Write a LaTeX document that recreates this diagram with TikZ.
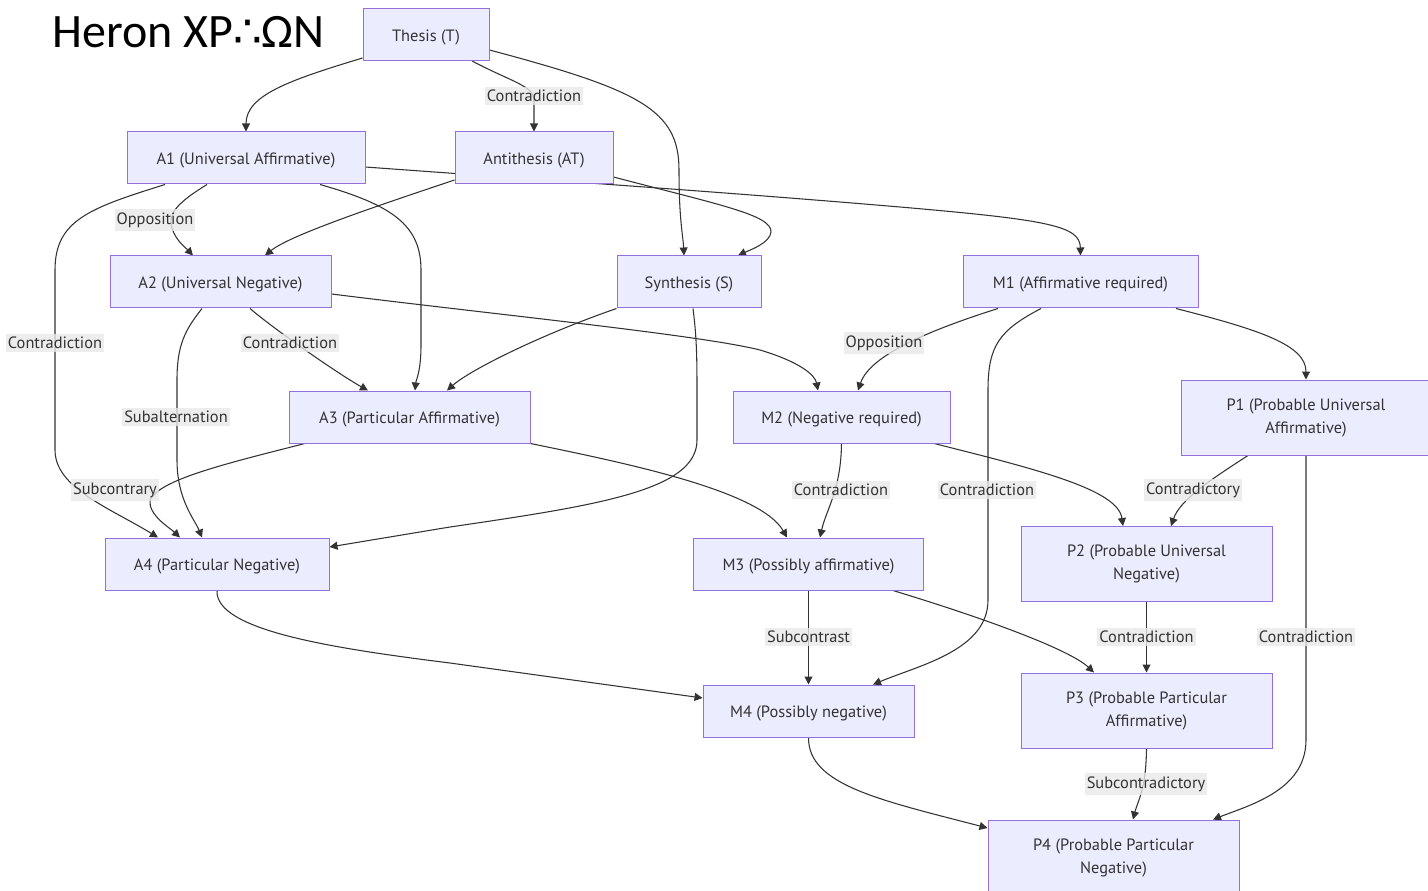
\documentclass[tikz,border=0pt]{standalone}
\usepackage{fontspec}
\setmainfont{PT Sans}
\newfontfamily\titlefont{Carlito}
\newfontfamily\symfont{DejaVu Sans}
\usetikzlibrary{calc,arrows.meta}

\definecolor{nodefill}{HTML}{ECECFF}
\definecolor{nodeline}{HTML}{9370DB}
\definecolor{ink}{HTML}{333333}
\definecolor{lblfill}{HTML}{E8E8E8}

\pgfdeclarelayer{edges}
\pgfsetlayers{edges,main}

\begin{document}
\begin{tikzpicture}[x=0.75pt,y=-0.75pt,
  box/.style={draw=nodeline, fill=nodefill, line width=0.75pt, text=ink,
    font=\fontsize{12.3}{17.25}\selectfont, align=center,
    minimum height=39pt, inner sep=0pt,
    execute at begin node={\rule{0pt}{13pt}}},
  tall/.style={minimum height=56.25pt},
  wd/.style={minimum width=#1*0.75pt},
  edge/.style={draw=ink, line width=0.8pt, -{Triangle[length=6pt,width=6pt]}},
  lbl/.style={fill=lblfill, fill opacity=0.8, text opacity=1, text=ink,
    font=\fontsize{12.3}{14}\selectfont, inner xsep=1.5pt, inner ysep=2.5pt}]

\useasboundingbox (0,0) rectangle (1428,891);
\clip (0,0) rectangle (1428,891);

% title
\node[anchor=base west, inner sep=0pt, font=\titlefont\fontsize{36}{44}\selectfont]
  (title) at (52,48) {Heron XP{\symfont\fontsize{34}{40}\selectfont ∴}ΩN};

% statements
\node[box, wd=126] (T)  at (426,34.5)  {Thesis (T)};
\node[box, wd=238] (A1) at (246,158)   {A1 (Universal Affirmative)};
\node[box, wd=158] (AT) at (534,158)   {Antithesis (AT)};
\node[box, wd=221] (A2) at (220.5,282) {A2 (Universal Negative)};
\node[box, wd=144] (S)  at (689,282)   {Synthesis (S)};
\node[box, wd=235] (M1) at (1080.5,282){M1 (Affirmative required)};
\node[box, wd=241] (A3) at (409.5,417) {A3 (Particular Affirmative)};
\node[box, wd=217] (M2) at (841.5,417) {M2 (Negative required)};
\node[box, tall, wd=250] (P1) at (1306,417.5) {P1 (Probable Universal\\Affirmative)};
\node[box, wd=224] (A4) at (217,564)   {A4 (Particular Negative)};
\node[box, wd=230] (M3) at (808.5,564) {M3 (Possibly affirmative)};
\node[box, tall, wd=251] (P2) at (1146.5,564) {P2 (Probable Universal\\Negative)};
\node[box, wd=211] (M4) at (808.5,711) {M4 (Possibly negative)};
\node[box, tall, wd=251] (P3) at (1146.5,710.5) {P3 (Probable Particular\\Affirmative)};
\node[box, tall, wd=251] (P4) at (1113.5,857.5) {P4 (Probable Particular\\Negative)};

\begin{pgfonlayer}{edges}
% from the thesis
\draw[edge] ($(T.south west)+(0,-3)$) .. controls (290,80) and (246,95) .. (A1.north);
\draw[edge] ($(T.south)+(46,0)$) .. controls (512,82) and (534,86) .. (534,100) -- (AT.north)
  node[lbl] at (534,96) {Contradiction};
\draw[edge] ($(T.east)+(0,15.5)$) .. controls (640,90) and (679,110) .. (679,170)
  .. controls (679,220) and (683,235) .. ($(S.north)+(-5,0)$);

% from A1
\draw[edge] ($(A1.south)+(-39,0)$) .. controls (185,198) and (170,210) .. (171,222)
  .. controls (172,238) and (186,248) .. ($(A2.north)+(-27.5,0)$)
  node[lbl] at (155,220) {Opposition};
\draw[edge] ($(A1.south)+(74,0)$) .. controls (392,205) and (421,225) .. (421,270)
  -- (421,345) .. controls (421,372) and (416,380) .. ($(A3.north)+(5.5,0)$);
\draw[edge] ($(A1.south)+(-81,0)$) .. controls (90,208) and (55,220) .. (55,270)
  -- (55,450) .. controls (55,488) and (110,508) .. ($(A4.north)+(-59,0)$)
  node[lbl] at (55,343) {Contradiction};
\draw[edge] ($(A1.east)+(0,9)$) .. controls (500,177) and (700,190) .. (900,207)
  .. controls (1050,220) and (1080,226) .. (M1.north);

% from the antithesis
\draw[edge] ($(AT.west)+(0,22)$) .. controls (380,205) and (290,235) .. ($(A2.north)+(44.5,0)$);
\draw[edge] ($(AT.east)+(0,19)$) .. controls (720,205) and (772,215) .. (771,232)
  .. controls (770,243) and (750,250) .. ($(S.north)+(49,0)$);

% from A2
\draw[edge] ($(A2.south)+(29.5,0)$) .. controls (275,330) and (340,375) .. ($(A3.north)+(-41.5,0)$)
  node[lbl] at (290,343) {Contradiction};
\draw[edge] ($(A2.south)+(-18.5,0)$) .. controls (185,330) and (177,345) .. (177,380)
  -- (177,460) .. controls (177,500) and (195,520) .. ($(A4.north)+(-15,0)$)
  node[lbl] at (176,417) {Subalternation};
\draw[edge] ($(A2.east)+(0,12)$) .. controls (500,315) and (700,335) .. (760,350)
  .. controls (800,362) and (815,375) .. ($(M2.north)+(-23.5,0)$);

% from the synthesis
\draw[edge] (S.south west) .. controls (540,335) and (470,370) .. ($(A3.north)+(37.5,0)$);
\draw[edge] ($(S.south)+(4,0)$) .. controls (697,340) and (697,360) .. (697,400)
  -- (697,440) .. controls (697,490) and (600,505) .. (450,527) -- ($(A4.east)+(0,-17)$);

% from M1
\draw[edge] ($(M1.south)+(-82.5,0)$) .. controls (930,330) and (870,355) .. ($(M2.north)+(16.5,0)$)
  node[lbl] at (884,343) {Opposition};
\draw[edge] ($(M1.south)+(-39.5,0)$) .. controls (1000,330) and (988,345) .. (988,390)
  -- (988,600) .. controls (988,650) and (920,665) .. ($(M4.north)+(64.5,0)$)
  node[lbl] at (987,490) {Contradiction};
\draw[edge] ($(M1.south)+(95.5,0)$) .. controls (1260,330) and (1306,345) .. (P1.north);

% from A3
\draw[edge] ($(A3.south)+(-104.5,0)$) .. controls (220,465) and (160,480) .. (150,500)
  .. controls (148,515) and (170,528) .. ($(A4.north)+(-37,0)$)
  node[lbl] at (115,490) {Subcontrary};
\draw[edge] (A3.south east) .. controls (620,462) and (760,490) .. ($(M3.north)+(-21.5,0)$);

% from M2
\draw[edge] (M2.south) .. controls (841,490) and (826,510) .. ($(M3.north)+(11.5,0)$)
  node[lbl] at (841,490) {Contradiction};
\draw[edge] ($(M2.south)+(92.5,0)$) .. controls (1040,470) and (1118,490) .. ($(P2.north)+(-23.5,0)$);

% from P1
\draw[edge] ($(P1.south)+(-58,0)$) .. controls (1210,480) and (1180,500) .. ($(P2.north)+(24.5,0)$)
  node[lbl] at (1193,490) {Contradictory};
\draw[edge] (P1.south) -- (1306,740) .. controls (1306,790) and (1250,805) .. ($(P4.north)+(99.5,0)$)
  node[lbl] at (1306,637) {Contradiction};

% lower rows
\draw[edge] (A4.south) .. controls (215,630) and (330,648) .. (450,663) -- ($(M4.west)+(0,-13)$);
\draw[edge] (M3.south) -- (M4.north)
  node[lbl] at (808.5,637) {Subcontrast};
\draw[edge] ($(M3.south)+(84.5,0)$) .. controls (990,620) and (1070,650) .. ($(P3.north)+(-52.5,0)$);
\draw[edge] (P2.south) -- (P3.north)
  node[lbl] at (1146.5,637) {Contradiction};
\draw[edge] (M4.south) .. controls (808,785) and (880,800) .. ($(P4.west)+(0,-29.5)$);
\draw[edge] (P3.south) .. controls (1146,790) and (1138,800) .. ($(P4.north)+(19.5,0)$)
  node[lbl] at (1146,784) {Subcontradictory};
\end{pgfonlayer}
\end{tikzpicture}
\end{document}
